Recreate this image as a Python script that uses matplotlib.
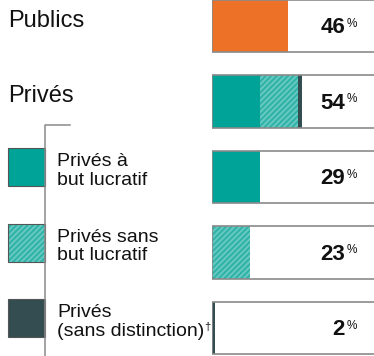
import matplotlib.pyplot as plt
from matplotlib.patches import Rectangle
from matplotlib.lines import Line2D
from matplotlib.transforms import blended_transform_factory

plt.rcParams['font.family'] = ['Liberation Sans', 'DejaVu Sans']
plt.rcParams['hatch.linewidth'] = 1.4

# data
rows = ['Publics', 'Privés', 'Privés à\nbut lucratif', 'Privés sans\nbut lucratif',
        'Privés\n(sans distinction)']
publics = [46, 0, 0, 0, 0]
lucratif = [0, 29, 29, 0, 0]
sans_but = [0, 23, 0, 23, 0]
sans_dist = [0, 2, 0, 0, 2]
totals = ['46', '54', '29', '23', '2']

orange = '#ED7127'
teal = '#00A397'
teal_h = '#2FB2A7'
dark = '#334D51'
grey = '#8A8A8A'

W, H = 374, 356
fig = plt.figure(figsize=(W / 100, H / 100), dpi=100)
ax = fig.add_axes([212 / W, 0, 166 / W, 1])
ax.set_xlim(0, 100)
ax.set_ylim(4.37, -0.344)
ax.axis('off')

y = list(range(len(rows)))
bh = 0.69

ax.barh(y, [100] * len(y), height=bh, color='white', edgecolor='none')
ax.barh(y, publics, height=bh, color=orange, linewidth=0)
ax.barh(y, lucratif, height=bh, left=publics, color=teal, linewidth=0)
left2 = [a + b for a, b in zip(publics, lucratif)]
ax.barh(y, sans_but, height=bh, left=left2, color=teal_h, edgecolor='#68C9C1',
        hatch='//////', linewidth=0)
left3 = [a + b for a, b in zip(left2, sans_but)]
ax.barh(y, sans_dist, height=bh, left=left3, color=dark, linewidth=0)
ax.barh(y, [100] * len(y), height=bh, color='none', edgecolor=grey, linewidth=1.2)

tr = blended_transform_factory(fig.transFigure, ax.transData)

# labels on the left
for i in range(2):
    ax.text(8 / W, y[i] + 0.01, rows[i], transform=tr, fontsize=17,
            ha='left', va='baseline', color='#111111')
sub = []
for i in range(2, 5):
    sub.append(ax.text(57 / W, y[i] - 0.08, rows[i], transform=tr, fontsize=14,
                       ha='left', va='center', color='#111111', linespacing=1.15))

# small dagger after the last label
fig.canvas.draw()
bb = sub[-1].get_window_extent()
ax.text(bb.x1 / W, y[4] + 0.05, '†', transform=tr, fontsize=8,
        ha='left', va='bottom', color='#111111')

# legend swatches
sw = [(teal, None, '#1a6f69'), (teal_h, '//////', '#68C9C1'), (dark, None, dark)]
for i, (fc, hatch, ec) in zip(range(2, 5), sw):
    r = Rectangle((8 / W, y[i] - 0.384), 37 / W, 0.503, transform=tr,
                  facecolor=fc, edgecolor=ec, hatch=hatch, linewidth=0,
                  clip_on=False)
    ax.add_patch(r)
    ax.add_patch(Rectangle((8 / W, y[i] - 0.384), 37 / W, 0.503, transform=tr,
                           facecolor='none', edgecolor='#555555', linewidth=0.8,
                           clip_on=False))

# bracket line
fig.add_artist(Line2D([70 / W, 45 / W, 45 / W], [1 - 125 / H, 1 - 125 / H, 0],
                      transform=fig.transFigure, color='#8A8A8A', linewidth=1.1))

# values
for i, t in enumerate(totals):
    ax.text(345 / W, y[i] + 0.093, t, transform=tr, fontsize=16,
            fontweight='bold', ha='right', va='baseline', color='#111111')
    ax.text(347 / W, y[i] + 0.01, '%', transform=tr, fontsize=8.5,
            ha='left', va='baseline', color='#111111')

fig.savefig('out.png', dpi=100)
